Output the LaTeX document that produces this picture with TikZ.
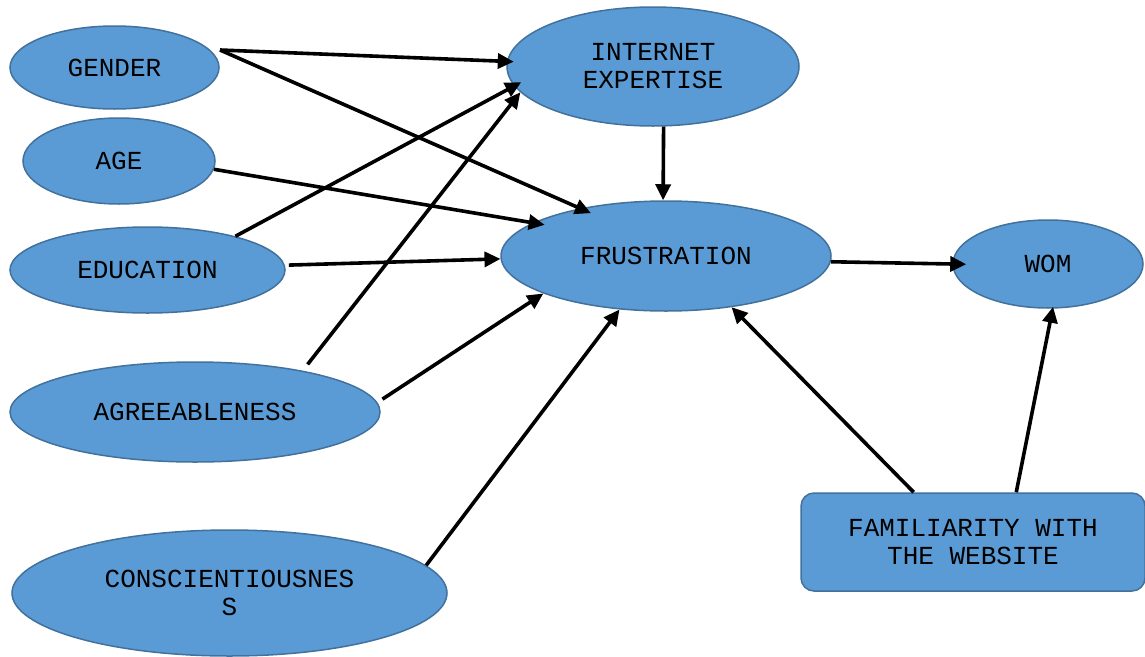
\documentclass[tikz,border=0pt]{standalone}
\usepackage{fontspec}
\setmainfont{Liberation Mono}
\usetikzlibrary{shapes.geometric,arrows.meta,calc}
\definecolor{fillblue}{HTML}{5B9BD5}
\definecolor{edgeblue}{HTML}{41719C}
\begin{document}
\begin{tikzpicture}[x=1pt,y=-1pt,
  every node/.style={font=\fontsize{26}{28}\selectfont, text=black, align=center},
  oval/.style={ellipse, draw=edgeblue, fill=fillblue, line width=1.5pt, inner sep=0pt},
  fbox/.style={rectangle, rounded corners=13pt, draw=edgeblue, fill=fillblue, line width=1.5pt, inner sep=0pt},
  conn/.style={line width=3.6pt, -{Triangle[length=16pt,width=15pt]}}]
\useasboundingbox (0,0) rectangle (1145,656);
\node[oval, minimum width=209pt, minimum height=83pt] (gender) at (114.5,67.5) {GENDER};
\node[oval, minimum width=192pt, minimum height=86pt] (age) at (119,161) {AGE};
\node[oval, minimum width=275pt, minimum height=86pt] (edu) at (147.5,270) {EDUCATION};
\node[oval, minimum width=370pt, minimum height=100pt] (agree) at (195,412) {AGREEABLENESS};
\node[oval, minimum width=435pt, minimum height=126pt] (consc) at (229.5,593) {CONSCIENTIOUSNES\\S};
\node[oval, minimum width=292pt, minimum height=119pt] (inet) at (653,66.5) {INTERNET\\EXPERTISE};
\node[oval, minimum width=330pt, minimum height=110pt] (frus) at (666,256) {FRUSTRATION};
\node[oval, minimum width=190pt, minimum height=88pt] (wom) at (1048,264) {WOM};
\node[fbox, minimum width=344pt, minimum height=98pt] (fam) at (973,542) {FAMILIARITY WITH\\THE WEBSITE};

\coordinate (gs) at ($(gender.center)+(105.5,-17.5)$);
\draw[conn, shorten >=-7pt] (gs) -- (inet.178.7);
\draw[conn, shorten >=-12pt] (gs) -- (frus.151);
\draw[conn, shorten >=-12pt] (age.-5.2) -- (frus.166);
\draw[conn, shorten >=-8pt] (edu.21.9) -- (inet.188);
\draw[conn, shorten <=4pt] (edu.2.4) -- (frus.181);
\draw[conn, shorten <=8pt] (agree.21.8) -- (inet.191.4);
\draw[conn, shorten <=6pt] (agree.3.7) -- (frus.197);
\draw[conn] (consc.8.1) -- (frus.229.4);
\draw[conn] (inet.-80.6) -- (frus.93);
\draw[conn, shorten >=-14pt] (frus.-2.7) -- (wom.180);
\draw[conn] (fam.140.3) -- (frus.-38.7);
\draw[conn, shorten >=-2pt] (fam.49.2) -- (wom.-84);
\end{tikzpicture}
\end{document}
